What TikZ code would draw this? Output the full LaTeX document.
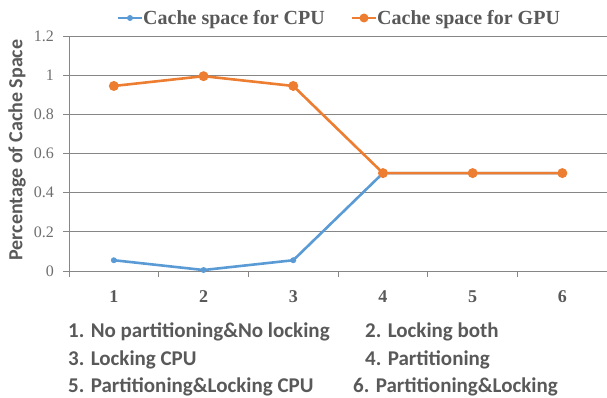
\documentclass[tikz,border=0pt]{standalone}
\usepackage{fontspec}
\setmainfont{Liberation Serif}
\newfontfamily\calibfont{Carlito}
\definecolor{cpublue}{RGB}{91,155,213}
\definecolor{gpuorange}{RGB}{237,125,49}
\definecolor{gridgray}{RGB}{134,134,134}
\definecolor{labelgray}{RGB}{89,89,89}
\definecolor{ticklabelgray}{RGB}{110,110,110}
\usetikzlibrary{positioning,calc}
\tikzset{
  grid line/.style={gridgray,line width=0.9pt},
  cpu line/.style={cpublue,line width=2.6pt,line join=round},
  gpu line/.style={gpuorange,line width=2.6pt,line join=round},
  tick label/.style={ticklabelgray,font=\fontsize{16}{16}\selectfont,inner sep=0pt},
  cat label/.style={labelgray,font=\fontsize{18}{18}\selectfont\bfseries,inner sep=0pt,anchor=base},
  legend text/.style={labelgray,font=\fontsize{20}{20}\selectfont\bfseries,inner sep=0pt,anchor=base west},
  note text/.style={labelgray,font=\calibfont\fontsize{21}{21}\selectfont\bfseries,inner sep=0pt,anchor=base west},
}
\begin{document}
\begin{tikzpicture}[x=1pt,y=1pt]
  \useasboundingbox (0,0) rectangle (607,397);

  % plot area: one unit across per scenario, one unit up per 100%
  \begin{scope}[shift={(69,126)},x=89.7pt,y=195.8pt]
    \foreach \v/\t in {0/0,0.2/0.2,0.4/0.4,0.6/0.6,0.8/0.8,1/1,1.2/1.2} {
      \draw[grid line] ([xshift=-6pt]0,\v) -- (6,\v);
      \node[tick label,anchor=east] (ylab\t) at ([xshift=-15pt]0,\v) {\t};
    }
    \draw[grid line] (0,0) -- (0,1.2);
    \foreach \i in {0,...,6}
      \draw[grid line] (\i,0) -- ([yshift=-6pt]\i,0);
    \foreach \i in {1,...,6}
      \node[cat label] (xlab\i) at ([yshift=-31pt]\i-0.5,0) {\i};

    % data points
    \coordinate (c1) at (0.5,0.055);
    \coordinate (c2) at (1.5,0.005);
    \coordinate (c3) at (2.5,0.055);
    \coordinate (c4) at (3.5,0.5);
    \coordinate (c5) at (4.5,0.5);
    \coordinate (c6) at (5.5,0.5);
    \coordinate (g1) at (0.5,0.945);
    \coordinate (g2) at (1.5,0.995);
    \coordinate (g3) at (2.5,0.945);
    \coordinate (g4) at (3.5,0.5);
    \coordinate (g5) at (4.5,0.5);
    \coordinate (g6) at (5.5,0.5);

    \draw[cpu line] (c1) -- (c2) -- (c3) -- (c4) -- (c5) -- (c6);
    \foreach \p in {c1,c2,c3,c4}
      \fill[cpublue] (\p) circle (3pt);
    \draw[gpu line] (g1) -- (g2) -- (g3) -- (g4) -- (g5) -- (g6);
    \foreach \p in {g1,g2,g3,g4,g5,g6}
      \fill[gpuorange] (\p) circle (5pt);
  \end{scope}

  \node[labelgray,font=\calibfont\fontsize{20}{20}\selectfont\bfseries,rotate=90] (ytitle) at (17,247) {Percentage of Cache Space};

  % legend
  \node[legend text] (legcpu) at (143,372) {Cache space for CPU};
  \node[legend text] (leggpu) at (377,372) {Cache space for GPU};
  \coordinate (legcpu start) at (118,379);
  \coordinate (legcpu end) at (142,379);
  \coordinate (leggpu start) at (352,379);
  \coordinate (leggpu end) at (376,379);
  \draw[cpu line] (legcpu start) -- (legcpu end);
  \fill[cpublue] ($(legcpu start)!0.5!(legcpu end)$) circle (3pt);
  \draw[gpu line] (leggpu start) -- (leggpu end);
  \fill[gpuorange] ($(leggpu start)!0.5!(leggpu end)$) circle (4.5pt);

  % scenario key
  \node[note text] (note1) at (68,60) {1. No partitioning\&No locking};
  \node[note text] (note2) at (365,60) {2. Locking both};
  \node[note text] (note3) at (68,32) {3. Locking CPU};
  \node[note text] (note4) at (365,32) {4. Partitioning};
  \node[note text] (note5) at (68,5) {5. Partitioning\&Locking CPU};
  \node[note text] (note6) at (353,5) {6. Partitioning\&Locking};
\end{tikzpicture}
\end{document}
